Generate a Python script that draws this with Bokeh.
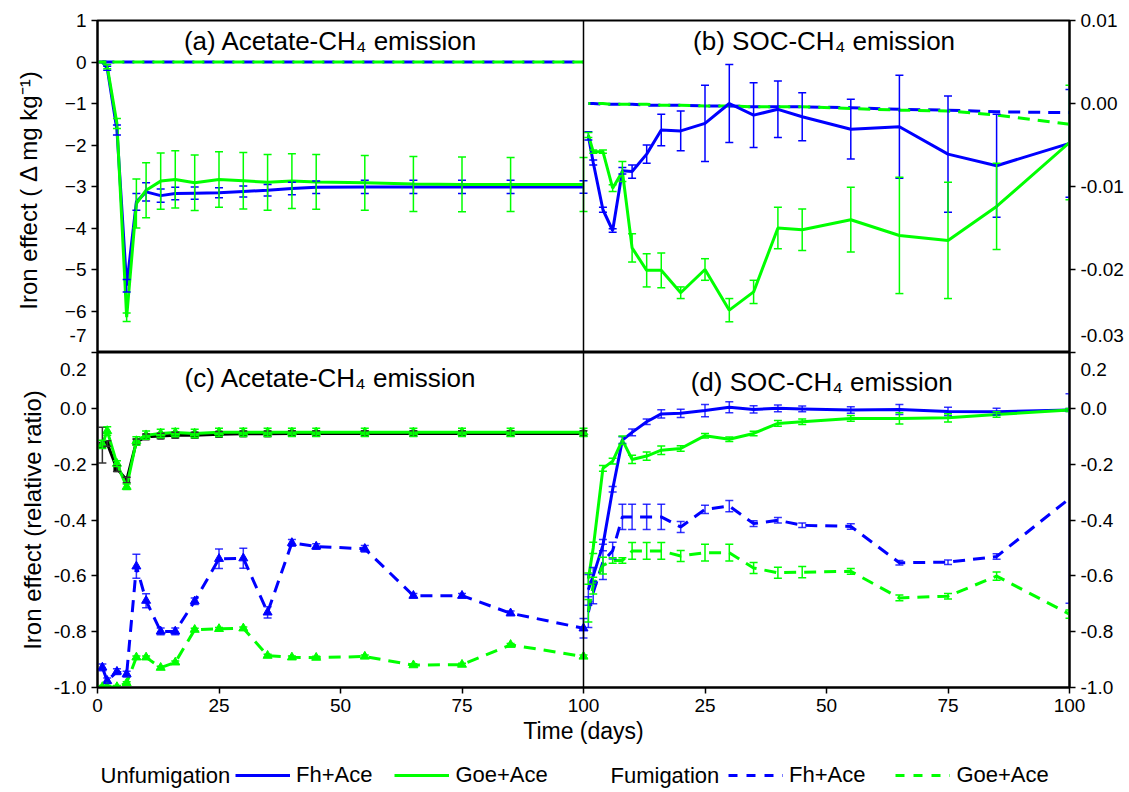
from bokeh.plotting import figure
from bokeh.models import (Range1d, LinearAxis, FixedTicker, PrintfTickFormatter, Whisker,
                          ColumnDataSource, TeeHead, Span, Label, Legend, LegendItem)
from bokeh.layouts import column
from bokeh.embed import file_html
from bokeh.resources import INLINE

# ---------------- data ----------------
days = [1, 2, 4, 6, 8, 10, 13, 16, 20, 25, 30, 35, 40, 45, 55, 65, 75, 85, 100]

# (a) Acetate-CH4 emission, delta mg kg-1
a_unf_fh = [0, -0.15, -1.64, -5.39, -3.37, -3.13, -3.22, -3.17, -3.16, -3.15, -3.12, -3.09, -3.05, -3.02, -3.01, -3.01, -3.01, -3.01, -3.01]
a_unf_fh_err = [0.02, 0.05, 0.12, 0.15, 0.2, 0.22, 0.16, 0.15, 0.15, 0.12, 0.13, 0.14, 0.15, 0.15, 0.16, 0.16, 0.16, 0.16, 0.15]
a_unf_goe = [0, -0.11, -1.48, -6.15, -3.41, -3.09, -2.87, -2.83, -2.91, -2.83, -2.86, -2.90, -2.87, -2.89, -2.91, -2.94, -2.95, -2.95, -2.95]
a_unf_goe_err = [0.02, 0.05, 0.12, 0.1, 0.59, 0.66, 0.68, 0.69, 0.67, 0.67, 0.68, 0.67, 0.66, 0.66, 0.66, 0.66, 0.66, 0.65, 0.65]
a_fum_fh = [0, 0, 0, 0, 0, 0, 0, 0, 0, 0, 0, 0, 0, 0, 0, 0, 0, 0, 0]
a_fum_goe = [0, 0, 0, 0, 0, 0, 0, 0, 0, 0, 0, 0, 0, 0, 0, 0, 0, 0, 0]

# (b) SOC-CH4 emission, delta mg kg-1
b_unf_fh = [-0.0039, -0.0071, -0.0128, -0.0153, -0.0081, -0.0082, -0.0061, -0.0032, -0.0033, -0.0024, 0.0000, -0.0014, -0.0007, -0.0016, -0.0031, -0.0028, -0.0061, -0.0075, -0.0048]
b_unf_fh_err = [0.0005, 0.0003, 0.0003, 0.0002, 0.0004, 0.0008, 0.0011, 0.0019, 0.0024, 0.0046, 0.0047, 0.0039, 0.0034, 0.0029, 0.0036, 0.0062, 0.0070, 0.0062, 0.0065]
b_unf_goe = [-0.0038, -0.0058, -0.0058, -0.0102, -0.0082, -0.0174, -0.0201, -0.0201, -0.0228, -0.0200, -0.0249, -0.0227, -0.0150, -0.0152, -0.0140, -0.0159, -0.0165, -0.0124, -0.0047]
b_unf_goe_err = [0.0003, 0.0002, 0.0002, 0.0004, 0.0012, 0.0017, 0.0020, 0.0021, 0.0007, 0.0013, 0.0014, 0.0014, 0.0025, 0.0025, 0.0039, 0.0070, 0.0070, 0.0052, 0.0069]
b_fum_fh = [0, 0, -0.0001, -0.0001, -0.0001, -0.0001, -0.0002, -0.0002, -0.0002, -0.0003, -0.0003, -0.0004, -0.0004, -0.0004, -0.0005, -0.0007, -0.0008, -0.0010, -0.0011]
b_fum_goe = [0, 0, 0, -0.0001, -0.0001, -0.0001, -0.0001, -0.0002, -0.0002, -0.0003, -0.0003, -0.0004, -0.0004, -0.0004, -0.0006, -0.0008, -0.0009, -0.0014, -0.0025]

# (c) Acetate-CH4 emission, relative ratio
c_unf_fh = [-0.132, -0.126, -0.216, -0.257, -0.120, -0.102, -0.099, -0.096, -0.096, -0.093, -0.091, -0.091, -0.090, -0.090, -0.090, -0.090, -0.090, -0.090, -0.090]
c_unf_fh_err = [0.064, 0.01, 0.01, 0.01, 0.01, 0.01, 0.01, 0.01, 0.01, 0.01, 0.01, 0.01, 0.01, 0.01, 0.01, 0.01, 0.01, 0.01, 0.01]
c_unf_goe = [-0.129, -0.081, -0.198, -0.281, -0.117, -0.096, -0.090, -0.087, -0.090, -0.086, -0.086, -0.086, -0.086, -0.086, -0.086, -0.086, -0.086, -0.086, -0.086]
c_unf_goe_err = [0.015, 0.015, 0.01, 0.01, 0.015, 0.015, 0.015, 0.015, 0.015, 0.015, 0.015, 0.015, 0.015, 0.015, 0.015, 0.015, 0.015, 0.015, 0.015]
c_fum_fh = [-0.928, -0.976, -0.943, -0.952, -0.566, -0.689, -0.799, -0.799, -0.691, -0.539, -0.537, -0.731, -0.482, -0.495, -0.503, -0.671, -0.671, -0.734, -0.788]
c_fum_fh_err = [0.012, 0.01, 0.01, 0.01, 0.043, 0.025, 0.012, 0.012, 0.012, 0.035, 0.036, 0.02, 0.012, 0.01, 0.012, 0.008, 0.008, 0.008, 0.035]
c_fum_goe = [-0.998, -0.998, -0.998, -0.984, -0.892, -0.892, -0.929, -0.910, -0.793, -0.790, -0.788, -0.886, -0.892, -0.893, -0.889, -0.920, -0.918, -0.847, -0.889]
c_fum_goe_err = [0.005, 0.005, 0.005, 0.005, 0.005, 0.005, 0.005, 0.005, 0.005, 0.005, 0.005, 0.005, 0.005, 0.005, 0.005, 0.005, 0.005, 0.005, 0.005]

# (d) SOC-CH4 emission, relative ratio
d_unf_fh = [-0.65, -0.60, -0.49, -0.29, -0.114, -0.086, -0.048, -0.020, -0.018, -0.008, 0.004, -0.004, 0.000, -0.002, -0.006, -0.004, -0.011, -0.012, -0.006]
d_unf_fh_err = [0.055, 0.03, 0.02, 0.01, 0.012, 0.012, 0.01, 0.015, 0.015, 0.022, 0.02, 0.013, 0.012, 0.01, 0.012, 0.018, 0.015, 0.012, 0.005]
d_unf_goe = [-0.61, -0.50, -0.215, -0.189, -0.114, -0.183, -0.171, -0.150, -0.144, -0.098, -0.111, -0.090, -0.054, -0.048, -0.036, -0.036, -0.034, -0.022, -0.006]
d_unf_goe_err = [0.02, 0.02, 0.01, 0.01, 0.015, 0.015, 0.015, 0.015, 0.01, 0.008, 0.008, 0.008, 0.01, 0.01, 0.01, 0.02, 0.015, 0.01, 0.005]
d_fum_fh = [-0.73, -0.66, -0.55, -0.51, -0.389, -0.389, -0.389, -0.389, -0.425, -0.362, -0.350, -0.413, -0.401, -0.419, -0.423, -0.553, -0.551, -0.531, -0.323]
d_fum_fh_err = [0.055, 0.04, 0.063, 0.03, 0.045, 0.045, 0.045, 0.045, 0.02, 0.015, 0.02, 0.01, 0.01, 0.008, 0.01, 0.008, 0.008, 0.01, 0.375]
d_fum_goe = [-0.725, -0.635, -0.563, -0.545, -0.545, -0.511, -0.511, -0.511, -0.529, -0.517, -0.517, -0.572, -0.589, -0.587, -0.584, -0.679, -0.673, -0.601, -0.737]
d_fum_goe_err = [0.04, 0.03, 0.03, 0.01, 0.01, 0.03, 0.03, 0.03, 0.02, 0.03, 0.03, 0.02, 0.02, 0.02, 0.01, 0.01, 0.01, 0.015, 0.015]

top_ticks = [1, 0, -1, -2, -3, -4, -5, -6, -7]
b_ticks = [0.01, 0.0, -0.01, -0.02, -0.03]
ratio_ticks = [0.2, 0.0, -0.2, -0.4, -0.6, -0.8, -1.0]
x_ticks = [0, 25, 50, 75, 100, 125, 150, 175, 200]
x_tick_labels = ["0", "25", "50", "75", "100", "25", "50", "75", "100"]

# ---------------- style ----------------
BLUE = "#0000ff"
GREEN = "#00ff00"
BLACK = "#000000"
FONT = "Liberation Sans"
DASH = "12 8"
LW = 3
W = 1129
FL, FR = 97, 60
EDGE_LH = 0.3   # line height used to nudge the edge tick labels off the seam

shift = days[-1]
xb = [d + shift for d in days]


def errbars(p, x, y, e, color, rname="default", alpha=1.0):
    src = ColumnDataSource(dict(x=x, lo=[a - b for a, b in zip(y, e)], hi=[a + b for a, b in zip(y, e)]))
    w = Whisker(source=src, base="x", lower="lo", upper="hi", line_color=color, line_width=1.5,
                line_alpha=alpha, y_range_name=rname, level="glyph",
                upper_head=TeeHead(size=8, line_color=color, line_width=1.5, line_alpha=alpha),
                lower_head=TeeHead(size=8, line_color=color, line_width=1.5, line_alpha=alpha))
    p.add_layout(w)


def style_axis(ax, size="19px"):
    ax.axis_line_width = 2
    ax.axis_line_color = BLACK
    ax.major_tick_line_width = 1.5
    ax.major_tick_out = 6
    ax.major_tick_in = 0
    ax.minor_tick_line_color = None
    ax.major_label_text_font = FONT
    ax.major_label_text_font_size = size
    ax.major_label_text_color = BLACK
    ax.axis_label_text_font = FONT
    ax.axis_label_text_font_size = "24px"
    ax.axis_label_text_font_style = "normal"
    ax.axis_label_text_color = BLACK


def setup(p):
    p.xgrid.visible = False
    p.ygrid.visible = False
    p.outline_line_color = BLACK
    p.outline_line_width = 2
    p.background_fill_color = "white"
    p.border_fill_color = "white"
    p.add_layout(Span(location=shift, dimension="height", line_color=BLACK, line_width=1.5))


def title(p, x, y, text, yoff):
    p.add_layout(Label(x=x, y=y, text=text, text_font=FONT, text_font_size="26px",
                       text_align="center", text_baseline="top", y_offset=yoff, text_color=BLACK))


# ---------------- top figure (a, b) ----------------
top = figure(width=W, height=352, x_range=Range1d(0, 2 * shift), y_range=Range1d(top_ticks[-1], top_ticks[0]),
             output_backend="svg", toolbar_location=None, x_axis_location=None,
             min_border_left=FL, min_border_right=FR, min_border_top=20, min_border_bottom=0)
top.extra_y_ranges = {"b": Range1d(b_ticks[-1], b_ticks[0])}
setup(top)
yl = top.yaxis[0]
yl.ticker = FixedTicker(ticks=top_ticks)
yl.major_label_overrides = {top_ticks[-1]: str(top_ticks[-1]) + "\n"}
yl.axis_label = "Iron effect ( \u0394  mg kg\u207b\u00b9)"
style_axis(yl)
yl.major_label_text_line_height = EDGE_LH
yl.axis_label_standoff = 20
yr = LinearAxis(y_range_name="b", ticker=FixedTicker(ticks=b_ticks),
                formatter=PrintfTickFormatter(format="%.2f"),
                major_label_overrides={b_ticks[-1]: "%.2f\n" % b_ticks[-1]})
style_axis(yr)
yr.major_label_text_line_height = EDGE_LH
top.add_layout(yr, "right")

# panel a
errbars(top, days, a_unf_fh, a_unf_fh_err, BLUE)
errbars(top, days, a_unf_goe, a_unf_goe_err, GREEN)
top.line(days, a_fum_fh, line_color=BLUE, line_width=LW, line_dash=DASH)
top.line(days, a_fum_goe, line_color=GREEN, line_width=LW, line_dash=DASH, line_dash_offset=10)
top.line(days, a_unf_fh, line_color=BLUE, line_width=LW)
top.line(days, a_unf_goe, line_color=GREEN, line_width=LW)

# panel b
errbars(top, xb, b_unf_fh, b_unf_fh_err, BLUE, "b")
errbars(top, xb, b_unf_goe, b_unf_goe_err, GREEN, "b")
top.line(xb, b_fum_fh, line_color=BLUE, line_width=LW, line_dash=DASH, y_range_name="b")
top.line(xb, b_fum_goe, line_color=GREEN, line_width=LW, line_dash=DASH, line_dash_offset=10, y_range_name="b")
top.line(xb, b_unf_fh, line_color=BLUE, line_width=LW, y_range_name="b")
top.line(xb, b_unf_goe, line_color=GREEN, line_width=LW, y_range_name="b")

title(top, 48, top_ticks[0], "(a) Acetate-CH\u2084 emission", -5)
title(top, 149.5, top_ticks[0], "(b) SOC-CH\u2084 emission", -5)

# ---------------- bottom figure (c, d) ----------------
bot = figure(width=W, height=401, x_range=Range1d(0, 2 * shift), y_range=Range1d(ratio_ticks[-1], ratio_ticks[0]),
             output_backend="svg", toolbar_location=None,
             min_border_left=FL, min_border_right=FR, min_border_top=0, min_border_bottom=66)
setup(bot)
top_lab = {ratio_ticks[0]: "\n%.1f" % ratio_ticks[0]}
bl = bot.yaxis[0]
bl.ticker = FixedTicker(ticks=ratio_ticks)
bl.formatter = PrintfTickFormatter(format="%.1f")
bl.major_label_overrides = top_lab
bl.axis_label = "Iron effect (relative ratio)"
style_axis(bl)
bl.major_label_text_line_height = EDGE_LH
br = LinearAxis(ticker=FixedTicker(ticks=ratio_ticks), formatter=PrintfTickFormatter(format="%.1f"),
                major_label_overrides=top_lab)
style_axis(br)
br.major_label_text_line_height = EDGE_LH
bot.add_layout(br, "right")
bx = bot.xaxis[0]
bx.ticker = FixedTicker(ticks=x_ticks)
bx.major_label_overrides = {t: s for t, s in zip(x_ticks, x_tick_labels)}
bx.axis_label = "Time (days)"
style_axis(bx, "19px")
bx.axis_label_text_font_size = "23px"
bx.axis_label_standoff = 3

# panel c
errbars(bot, days, c_unf_fh, c_unf_fh_err, "#333333")
errbars(bot, days, c_unf_goe, c_unf_goe_err, GREEN)
errbars(bot, days, c_fum_fh, c_fum_fh_err, BLUE, alpha=0.8)
errbars(bot, days, c_fum_goe, c_fum_goe_err, GREEN)
bot.line(days, c_fum_fh, line_color=BLUE, line_width=LW, line_dash=DASH)
bot.scatter(days, c_fum_fh, marker="triangle", size=9, color=BLUE)
bot.line(days, c_fum_goe, line_color=GREEN, line_width=LW, line_dash=DASH)
bot.scatter(days, c_fum_goe, marker="triangle", size=9, color=GREEN)
bot.line(days, c_unf_fh, line_color=BLACK, line_width=LW)
bot.scatter(days, c_unf_fh, marker="square", size=6, color=BLACK)
bot.line(days, c_unf_goe, line_color=GREEN, line_width=LW)
bot.scatter(days, c_unf_goe, marker="triangle", size=9, color=GREEN)

# panel d
errbars(bot, xb, d_unf_fh, d_unf_fh_err, BLUE, alpha=0.8)
errbars(bot, xb, d_unf_goe, d_unf_goe_err, GREEN)
errbars(bot, xb, d_fum_fh, d_fum_fh_err, BLUE, alpha=0.8)
errbars(bot, xb, d_fum_goe, d_fum_goe_err, GREEN)
bot.line(xb, d_fum_fh, line_color=BLUE, line_width=LW, line_dash=DASH)
bot.line(xb, d_fum_goe, line_color=GREEN, line_width=LW, line_dash=DASH)
bot.line(xb, d_unf_fh, line_color=BLUE, line_width=LW)
bot.line(xb, d_unf_goe, line_color=GREEN, line_width=LW)

title(bot, 48, ratio_ticks[0], "(c) Acetate-CH\u2084 emission", -10)
title(bot, 149, ratio_ticks[0], "(d) SOC-CH\u2084 emission", -14)

# ---------------- legend strip ----------------
# the key renderers carry real series but sit outside the strip's view, so only their legend keys show
leg = figure(width=W, height=39, x_range=Range1d(-2, -1), y_range=Range1d(-2, -1), output_backend="svg",
             toolbar_location=None, x_axis_location=None, y_axis_location=None,
             min_border_left=FL, min_border_right=FR, min_border_top=0, min_border_bottom=0)
leg.outline_line_color = None
leg.xgrid.visible = False
leg.ygrid.visible = False
k_fh = leg.line(xb, d_unf_fh, line_color=BLUE, line_width=LW)
k_goe = leg.line(days, c_unf_goe, line_color=GREEN, line_width=LW)
k_ffh = leg.line(xb, d_fum_fh, line_color=BLUE, line_width=LW, line_dash="9 9")
k_fgoe = leg.line(xb, d_fum_goe, line_color=GREEN, line_width=LW, line_dash="9 9")

LEG_FONT = "22px"
for lx, txt in [(3, "Unfumigation"), (513, "Fumigation")]:
    leg.add_layout(Label(x=lx, y=17, x_units="screen", y_units="screen", text=txt, text_font=FONT,
                         text_font_size=LEG_FONT, text_baseline="middle", text_color=BLACK))
for lx, sp, items in [(134, 22, [("Fh+Ace", k_fh), ("Goe+Ace", k_goe)]),
                      (627, 30, [("Fh+Ace", k_ffh), ("Goe+Ace", k_fgoe)])]:
    lg = Legend(items=[LegendItem(label=t, renderers=[r]) for t, r in items],
                orientation="horizontal", location=(lx, 0), label_text_font=FONT,
                label_text_font_size=LEG_FONT, label_text_color=BLACK, glyph_width=55, glyph_height=20,
                spacing=sp, label_standoff=6, margin=0, padding=4, border_line_alpha=0,
                background_fill_alpha=0)
    leg.add_layout(lg)

layout = column(top, bot, leg)
open("out.html", "w").write(file_html(layout, INLINE))
